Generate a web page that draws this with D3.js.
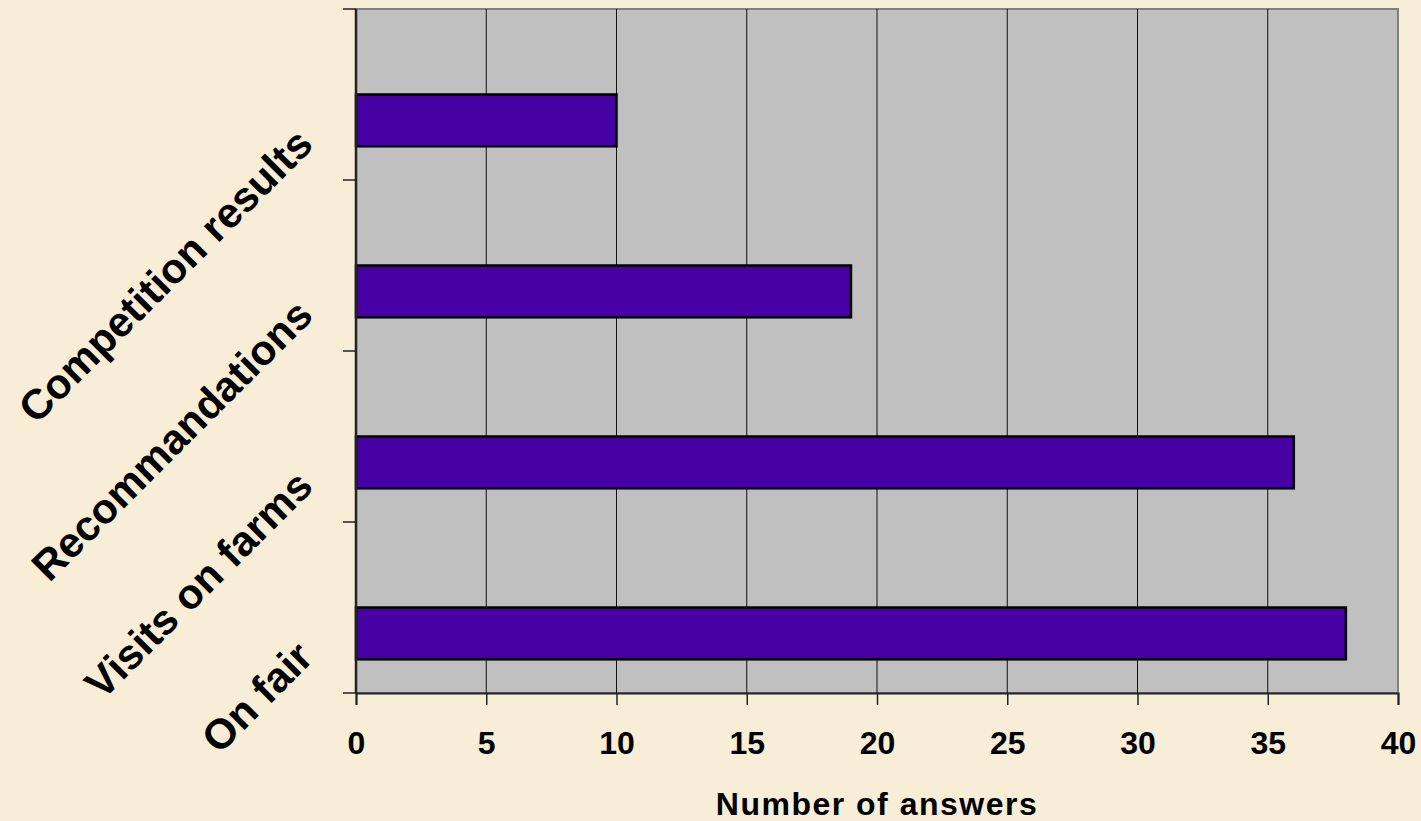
<!DOCTYPE html>
<html>
<head>
<meta charset="utf-8">
<script src="https://cdn.jsdelivr.net/npm/d3@7"></script>
<style>
  body { margin: 0; background: #f8eed7; }
  svg { display: block; font-family: "Liberation Sans", Arial, sans-serif; font-weight: bold; }
</style>
</head>
<body>
<div class="container"></div>
<script>
// data
const categories = ["Competition results", "Recommandations", "Visits on farms", "On fair"];
const answers = [10, 19, 36, 38];
const xTicks = [0, 5, 10, 15, 20, 25, 30, 35, 40];
const xTitle = "Number of answers";

const w = 1421, h = 821;
const plotLeft = 356, plotRight = 1398, plotTop = 9, plotBottom = 693;

const svg = d3.select(".container")
  .append("svg")
  .attr("width", w)
  .attr("height", h);

const x = d3.scaleLinear().domain([0, 40]).range([plotLeft, plotRight]);
const y = d3.scaleBand().domain(categories).range([plotTop, plotBottom]);
// excel-like slot: an empty first series and the bar in the second
const slot = d3.scaleBand().domain(["empty", "answers"])
  .range([0, y.bandwidth()])
  .paddingOuter(0.65);

//Plot area
svg.append("rect")
  .attr("x", plotLeft).attr("y", plotTop)
  .attr("width", plotRight - plotLeft).attr("height", plotBottom - plotTop)
  .attr("fill", "#c0c0c0")
  .attr("stroke", "#808080")
  .attr("stroke-width", 2);

//Vertical gridlines
svg.append("g")
  .selectAll("line")
  .data(xTicks.slice(1, -1))
  .enter()
  .append("line")
  .attr("x1", d => x(d)).attr("x2", d => x(d))
  .attr("y1", plotTop).attr("y2", plotBottom)
  .attr("stroke", "#111")
  .attr("stroke-width", 1);

//Bars
svg.append("g")
  .selectAll("rect")
  .data(answers)
  .enter()
  .append("rect")
  .attr("x", x(0))
  .attr("y", (d, i) => y(categories[i]) + slot("answers"))
  .attr("width", d => x(d) - x(0))
  .attr("height", slot.bandwidth())
  .attr("fill", "#4700a3")
  .attr("stroke", "#000")
  .attr("stroke-width", 2.5);

//X axis
const xAxis = d3.axisBottom(x).tickValues(xTicks).tickSize(12).tickPadding(26);
const xg = svg.append("g")
  .attr("transform", `translate(0,${plotBottom})`)
  .call(xAxis);
xg.select(".domain").attr("stroke", "#222").attr("stroke-width", 2);
xg.selectAll(".tick line").attr("stroke", "#222").attr("stroke-width", 1.5);
xg.selectAll(".tick text")
  .attr("fill", "#000")
  .style("font-size", "32px")
  .style("font-weight", "bold")
  .style("font-family", "'Liberation Sans', Arial, sans-serif");

//Y axis, ticks on the band edges
const yEdges = categories.map(c => y(c)).concat([plotBottom]);
svg.append("g")
  .selectAll("line")
  .data(yEdges)
  .enter()
  .append("line")
  .attr("x1", plotLeft - 13).attr("x2", plotLeft)
  .attr("y1", d => d).attr("y2", d => d)
  .attr("stroke", "#222")
  .attr("stroke-width", 1.5);
svg.append("line")
  .attr("x1", plotLeft).attr("x2", plotLeft)
  .attr("y1", plotTop).attr("y2", plotBottom)
  .attr("stroke", "#222")
  .attr("stroke-width", 2.5);

//Category labels, rotated
svg.append("g")
  .selectAll("text")
  .data(categories)
  .enter()
  .append("text")
  .attr("transform", d => `translate(315,${y(d) + y.bandwidth() / 2 + 52}) rotate(-45)`)
  .attr("text-anchor", "end")
  .style("font-size", "42px")
  .attr("fill", "#000")
  .text(d => d);

//X title
svg.append("text")
  .attr("x", (plotLeft + plotRight) / 2)
  .attr("y", 815)
  .attr("text-anchor", "middle")
  .style("font-size", "32px")
  .style("letter-spacing", "1.5px")
  .attr("fill", "#000")
  .text(xTitle);
</script>
</body>
</html>
